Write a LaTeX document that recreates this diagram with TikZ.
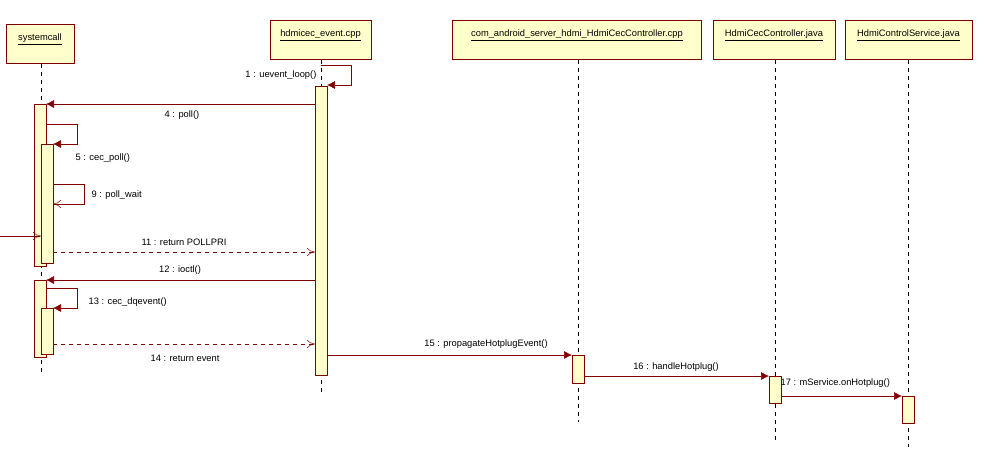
\documentclass[tikz,border=0pt]{standalone}
\usepackage{fontspec}
\setmainfont{Liberation Sans}
\usetikzlibrary{arrows.meta,positioning}
\definecolor{umlred}{RGB}{128,0,0}
\definecolor{umlfill}{RGB}{255,255,204}
\tikzset{
    x=0.75pt,y=-0.75pt,font=\fontsize{7}{8}\selectfont,
    obj/.style = {draw=umlred, fill=umlfill, minimum height=29.25pt, anchor=north west, inner sep=2pt},
    act/.style = {draw=umlred, fill=umlfill},
    life/.style = {dashed, black},
    msg/.style = {umlred, -{Latex[length=6pt,width=6pt]}},
    ret/.style = {umlred, dashed, -{To[length=6pt,width=6pt]}},
    asy/.style = {umlred, -{To[length=6pt,width=6pt]}},
    lbl/.style = {inner sep=1pt, black}
}
\newcommand{\objtitle}[1]{\raisebox{0pt}[0pt][0pt]{\underline{#1}}}
\begin{document}
\begin{tikzpicture}
    \useasboundingbox (0,0) rectangle (993,464);
    % objects
    \node[obj, minimum width=51pt, text height=16pt, text depth=8pt, anchor=north west] (sys) at (6,24) {};
    \node[anchor=north] at (40,29) {\underline{systemcall}};
    \node[obj, minimum width=75.75pt] (hdm) at (270,20) {};
    \node[anchor=north] at (320.5,25) {\underline{hdmicec\_event.cpp}};
    \node[obj, minimum width=186.75pt] (jni) at (452,20) {};
    \node[anchor=north] at (577,25) {\underline{com\_android\_server\_hdmi\_HdmiCecController.cpp}};
    \node[obj, minimum width=91.5pt] (ctl) at (713,20) {};
    \node[anchor=north] at (774,25) {\underline{HdmiCecController.java}};
    \node[obj, minimum width=95.25pt] (svc) at (845,20) {};
    \node[anchor=north] at (908.5,25) {\underline{HdmiControlService.java}};

    % lifelines
    \draw[life] (sys.south -| 41,0) -- (41,372);
    \draw[life] (hdm.south -| 321,0) -- (321,392);
    \draw[life] (jni.south -| 578,0) -- (578,422);
    \draw[life] (ctl.south -| 775,0) -- (775,440);
    \draw[life] (svc.south -| 908,0) -- (908,447);

    % activations
    \draw[act] (315,86) rectangle (327,375);
    \draw[act] (34,104) rectangle (46,266);
    \draw[act] (41,144) rectangle (53,263);
    \draw[act] (34,280) rectangle (46,357);
    \draw[act] (41,308) rectangle (53,354);
    \draw[act] (572,355) rectangle (584,383);
    \draw[act] (769,376) rectangle (781,403);
    \draw[act] (902,396) rectangle (914,423);

    % messages
    \coordinate (m1a) at (321,65);
    \coordinate (m1b) at (327,85);
    \draw[msg] (m1a) -- (351,65) -- (351,85) -- (m1b);
    \node[lbl, anchor=east] at (318,75) {1 : uevent\_loop()};

    \coordinate (m4a) at (315,104);
    \coordinate (m4b) at (46,104);
    \draw[msg] (m4a) -- (m4b);
    \node[lbl] at (182,115) {4 : poll()};

    \coordinate (m5a) at (46,124);
    \coordinate (m5b) at (53,144);
    \draw[msg] (m5a) -- (77,124) -- (77,144) -- (m5b);
    \node[lbl, anchor=west] at (74,158) {5 : cec\_poll()};

    \coordinate (m9a) at (53,184);
    \coordinate (m9b) at (53,204);
    \draw[asy] (m9a) -- (84,184) -- (84,204) -- (m9b);
    \node[lbl, anchor=west] at (90,195) {9 : poll\_wait};

    \coordinate (m10a) at (0,236);
    \coordinate (m10b) at (41,236);
    \draw[asy] (m10a) -- (m10b);

    \coordinate (m11a) at (53,252);
    \coordinate (m11b) at (315,252);
    \draw[ret] (m11a) -- (m11b);
    \node[lbl] at (184,242) {11 : return POLLPRI};

    \coordinate (m12a) at (315,280);
    \coordinate (m12b) at (46,280);
    \draw[msg] (m12a) -- (m12b);
    \node[lbl] at (180,270) {12 : ioctl()};

    \coordinate (m13a) at (46,288);
    \coordinate (m13b) at (53,308);
    \draw[msg] (m13a) -- (77,288) -- (77,308) -- (m13b);
    \node[lbl, anchor=west] at (87,302) {13 : cec\_dqevent()};

    \coordinate (m14a) at (53,344);
    \coordinate (m14b) at (315,344);
    \draw[ret] (m14a) -- (m14b);
    \node[lbl] at (185,358) {14 : return event};

    \coordinate (m15a) at (327,355);
    \coordinate (m15b) at (572,355);
    \draw[msg] (m15a) -- (m15b);
    \node[lbl] at (486,344) {15 : propagateHotplugEvent()};

    \coordinate (m16a) at (584,376);
    \coordinate (m16b) at (769,376);
    \draw[msg] (m16a) -- (m16b);
    \node[lbl] at (676,367) {16 : handleHotplug()};

    \coordinate (m17a) at (781,396);
    \coordinate (m17b) at (902,396);
    \draw[msg] (m17a) -- (m17b);
    \node[lbl, anchor=west] at (779,383) {17 : mService.onHotplug()};
\end{tikzpicture}
\end{document}
